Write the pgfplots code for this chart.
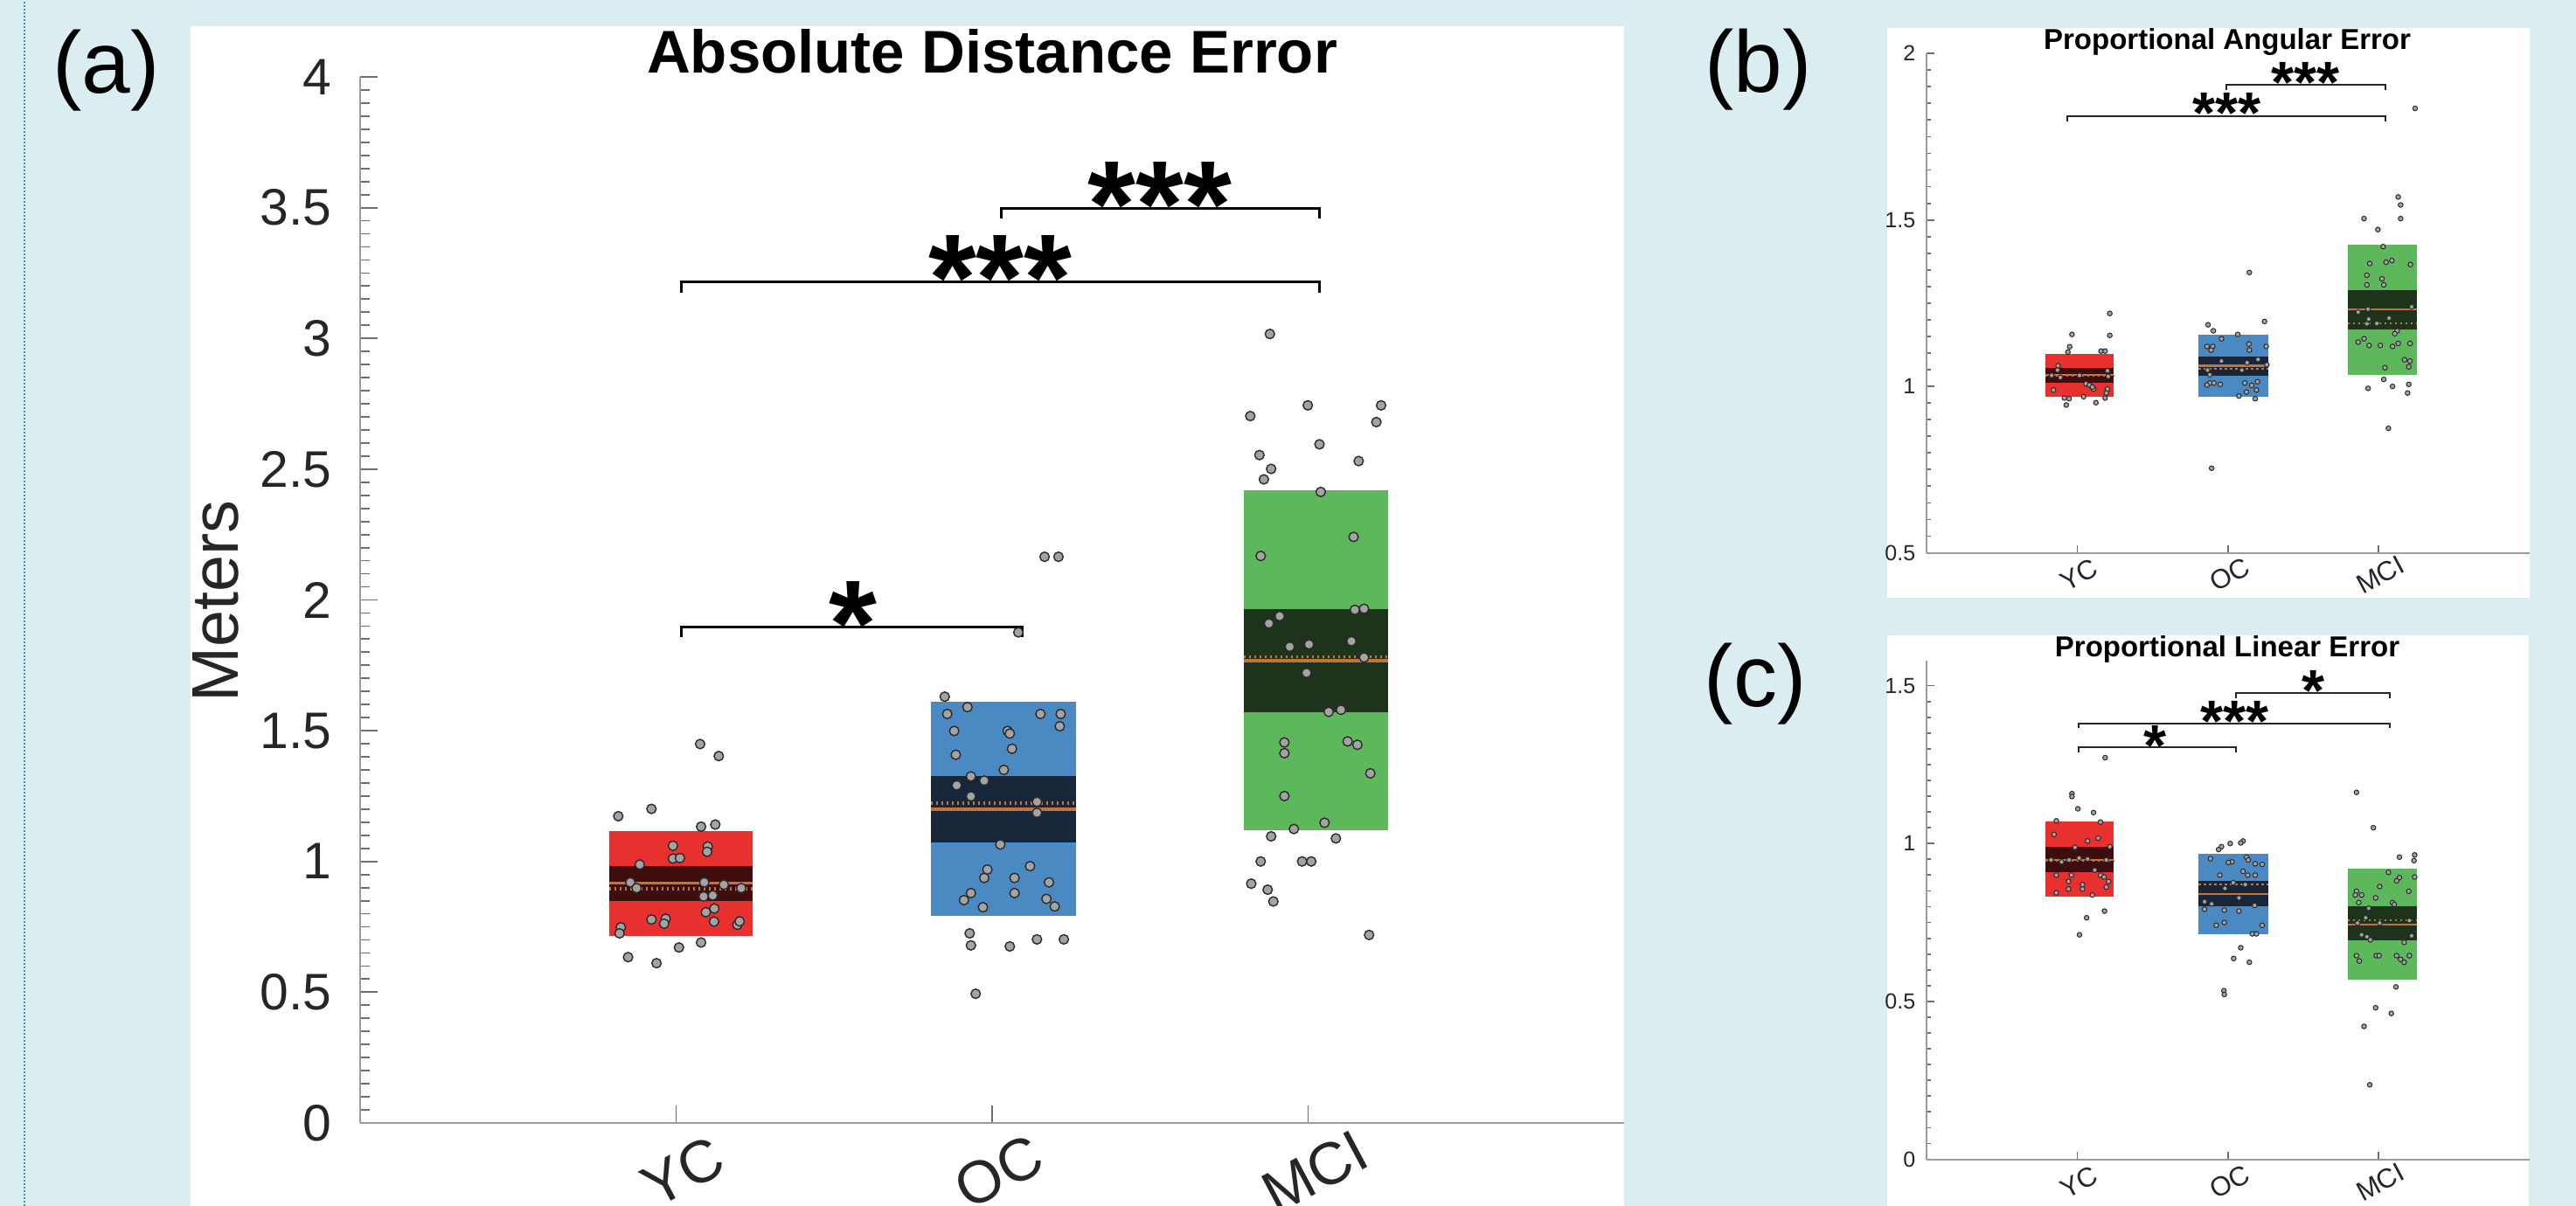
\documentclass[border=0pt]{standalone}
\usepackage{fontspec}
\setmainfont{Liberation Sans}
\usepackage{pgfplots}
\pgfplotsset{compat=1.18}
\definecolor{bg}{RGB}{218,238,241}
\definecolor{dotline}{RGB}{30,160,185}
\definecolor{axisgray}{RGB}{154,154,154}
\definecolor{tickgray}{RGB}{110,110,110}
\definecolor{labelgray}{RGB}{38,38,38}
\definecolor{boxred}{RGB}{232,48,47}
\definecolor{bandred}{RGB}{62,14,14}
\definecolor{boxblue}{RGB}{74,137,194}
\definecolor{bandblue}{RGB}{23,39,57}
\definecolor{boxgreen}{RGB}{93,184,91}
\definecolor{bandgreen}{RGB}{29,51,28}
\definecolor{meanc}{RGB}{194,116,62}
\definecolor{dotfill}{RGB}{163,163,163}
\definecolor{dotdraw}{RGB}{43,43,43}
\pgfplotsset{
  panel/.style={
    anchor=south west, scale only axis,
    xmin=0, xmax=4,
    axis x line=bottom, axis y line=left,
    axis line style={draw=axisgray, line width=0.5pt, -},
    xtick={1,2,3}, xticklabels={YC,OC,MCI},
    minor y tick num=9, minor x tick num=0,
    tick align=inside,
    tick style={draw=tickgray, line width=0.45pt},
    /pgf/number format/assume math mode=true,
    yticklabel style={text=labelgray, inner sep=0pt, anchor=east},
    xticklabel style={text=labelgray, inner sep=0pt},
  },
  boxp/.style={fill=#1, draw=none, forget plot},
  meanl/.style={meanc, line width=#1, forget plot},
  medl/.style={meanc, line width=#1, dash pattern=on 0.6pt off 0.9pt, forget plot},
  ptsA/.style={only marks, mark=*, mark size=1.35pt, mark options={fill=dotfill, draw=dotdraw, line width=0.35pt}},
  ptsB/.style={only marks, mark=*, mark size=0.68pt, mark options={fill=dotfill, draw=dotdraw, line width=0.25pt}},
}
\begin{document}
\begin{tikzpicture}
\useasboundingbox (0,0) rectangle (736.75pt,345pt);
\fill[bg] (0,0) rectangle (736.75pt,345pt);
\draw[dotline, line width=0.6pt, dash pattern=on 0.5pt off 0.5pt] (7pt,0) -- (7pt,345pt);
\fill[white] (54.5pt,0) rectangle (464.5pt,337.5pt);
\fill[white] (539.75pt,174pt) rectangle (723.5pt,337pt);
\fill[white] (539.75pt,0) rectangle (723.25pt,163.25pt);

% panel labels and titles
\node[font=\fontsize{25pt}{28pt}\selectfont, inner sep=0pt] at (30.4pt,324.9pt) {(a)};
\node[font=\fontsize{25pt}{28pt}\selectfont, inner sep=0pt] at (502.9pt,325pt) {(b)};
\node[font=\fontsize{25pt}{28pt}\selectfont, inner sep=0pt] at (502pt,149.4pt) {(c)};
\node[anchor=base, inner sep=0pt, font=\bfseries\fontsize{17.25pt}{20pt}\selectfont] at (283.75pt,324pt) {Absolute Distance Error};
\node[anchor=base, inner sep=0pt, font=\bfseries\fontsize{8.25pt}{10pt}\selectfont] at (637pt,330.75pt) {Proportional Angular Error};
\node[anchor=base, inner sep=0pt, font=\bfseries\fontsize{8.25pt}{10pt}\selectfont] at (637pt,157pt) {Proportional Linear Error};
\node[rotate=90, inner sep=0pt, text=labelgray, font=\fontsize{18.9pt}{20pt}\selectfont] at (61.75pt,173pt) {Meters};

% ---------------- (a) ----------------
\begin{axis}[panel,
  at={(103pt,23.75pt)}, width=361.5pt, height=299.25pt,
  ymin=0, ymax=4, ytick={0,0.5,1,1.5,2,2.5,3,3.5,4},
  major tick length=5pt, minor tick length=2.75pt,
  yticklabel style={font=\fontsize{14.7pt}{16pt}\selectfont, xshift=-8pt},
  xticklabel style={font=\fontsize{17pt}{18pt}\selectfont, yshift=-14pt, xshift=2pt, rotate=28, anchor=center},
]
% YC
\addplot[boxp=boxred] coordinates {(0.787,0.715) (1.243,0.715) (1.243,1.117) (0.787,1.117)};
\addplot[boxp=bandred] coordinates {(0.787,0.848) (1.243,0.848) (1.243,0.982) (0.787,0.982)};
\addplot[meanl=0.9pt] coordinates {(0.787,0.917) (1.243,0.917)};
\addplot[medl=0.9pt] coordinates {(0.787,0.896) (1.243,0.896)};
% OC
\addplot[boxp=boxblue] coordinates {(1.805,0.793) (2.265,0.793) (2.265,1.609) (1.805,1.609)};
\addplot[boxp=bandblue] coordinates {(1.805,1.072) (2.265,1.072) (2.265,1.328) (1.805,1.328)};
\addplot[meanl=0.9pt] coordinates {(1.805,1.199) (2.265,1.199)};
\addplot[medl=0.9pt] coordinates {(1.805,1.224) (2.265,1.224)};
% MCI
\addplot[boxp=boxgreen] coordinates {(2.796,1.118) (3.253,1.118) (3.253,2.418) (2.796,2.418)};
\addplot[boxp=bandgreen] coordinates {(2.796,1.570) (3.253,1.570) (3.253,1.966) (2.796,1.966)};
\addplot[meanl=0.9pt] coordinates {(2.796,1.768) (3.253,1.768)};
\addplot[medl=0.9pt] coordinates {(2.796,1.783) (3.253,1.783)};
% points
\addplot[ptsA] coordinates {(1.076,1.449) (1.135,1.403) (0.817,1.173) (0.922,1.201) (1.079,1.133) (1.124,1.141) (0.990,1.060) (1.100,1.057) (1.098,1.037) (0.990,1.011) (1.012,1.013) (0.885,0.988) (0.855,0.920) (0.875,0.898) (1.089,0.920) (1.151,0.911) (1.206,0.898) (1.087,0.866) (1.116,0.870) (1.094,0.806) (1.121,0.820) (0.922,0.778) (0.967,0.781) (0.962,0.762) (1.120,0.770) (1.194,0.758) (1.201,0.771) (0.825,0.748) (0.821,0.725) (1.079,0.690) (1.009,0.671) (0.848,0.634) (0.938,0.611)};
\addplot[ptsA] coordinates {(1.850,1.630) (1.922,1.590) (1.858,1.564) (2.153,1.564) (2.217,1.564) (2.214,1.517) (1.880,1.499) (2.049,1.499) (2.056,1.489) (2.063,1.431) (1.885,1.408) (2.037,1.350) (1.933,1.325) (1.975,1.309) (1.888,1.291) (1.933,1.249) (2.142,1.228) (2.142,1.186) (2.026,1.065) (2.120,0.982) (1.985,0.969) (1.975,0.937) (2.071,0.937) (2.180,0.920) (1.933,0.879) (2.071,0.879) (1.911,0.852) (2.172,0.857) (1.971,0.825) (2.198,0.828) (1.929,0.725) (1.933,0.679) (2.056,0.675) (2.142,0.702) (2.227,0.702) (1.948,0.494) (2.166,2.165) (2.210,2.165) (2.083,1.876)};
\addplot[ptsA] coordinates {(2.879,3.017) (2.817,2.703) (2.999,2.744) (3.231,2.744) (3.216,2.680) (3.036,2.595) (2.846,2.554) (3.160,2.531) (2.883,2.501) (2.860,2.461) (3.040,2.413) (3.144,2.241) (2.850,2.168) (2.910,1.938) (2.876,1.910) (3.148,1.962) (3.177,1.966) (2.942,1.821) (3.003,1.830) (3.137,1.842) (3.177,1.780) (2.995,1.721) (3.065,1.572) (3.104,1.580) (2.925,1.455) (2.925,1.414) (3.125,1.459) (3.156,1.446) (3.197,1.337) (2.925,1.250) (3.052,1.148) (2.955,1.124) (2.883,1.096) (3.088,1.088) (2.850,1.000) (2.981,1.000) (3.010,1.000) (2.820,0.915) (2.872,0.892) (2.890,0.847) (3.193,0.719)};
% significance
\addplot[black, line width=0.75pt] coordinates {(1.017,1.858) (1.017,1.898) (2.095,1.898) (2.095,1.858)};
\addplot[black, line width=0.75pt] coordinates {(1.017,3.176) (1.017,3.216) (3.036,3.216) (3.036,3.176)};
\addplot[black, line width=0.75pt] coordinates {(2.030,3.459) (2.030,3.498) (3.036,3.498) (3.036,3.459)};
\node[anchor=base, inner sep=0pt, font=\bfseries\fontsize{35.25pt}{36pt}\selectfont] at (axis cs:1.560,1.747) {*};
\node[anchor=base, inner sep=0pt, font=\bfseries\fontsize{35.25pt}{36pt}\selectfont] at (axis cs:2.026,3.070) {***};
\node[anchor=base, inner sep=0pt, font=\bfseries\fontsize{35.25pt}{36pt}\selectfont] at (axis cs:2.531,3.349) {***};
\end{axis}

% ---------------- (b) ----------------
\begin{axis}[panel,
  at={(551pt,186.85pt)}, width=172.4pt, height=142.85pt,
  ymin=0.5, ymax=2, ytick={0.5,1,1.5,2},
  major tick length=2.25pt, minor tick length=1.25pt,
  yticklabel style={font=\fontsize{6.25pt}{7pt}\selectfont, xshift=-3pt},
  xticklabel style={font=\fontsize{7.75pt}{9pt}\selectfont, yshift=-6.25pt, xshift=0.5pt, rotate=28, anchor=center},
]
\addplot[boxp=boxred] coordinates {(0.787,0.969) (1.243,0.969) (1.243,1.0987) (0.787,1.0987)};
\addplot[boxp=bandred] coordinates {(0.787,1.012) (1.243,1.012) (1.243,1.0554) (0.787,1.0554)};
\addplot[meanl=0.6pt] coordinates {(0.787,1.034) (1.243,1.034)};
\addplot[medl=0.5pt] coordinates {(0.787,1.031) (1.243,1.031)};
\addplot[boxp=boxblue] coordinates {(1.805,0.969) (2.265,0.969) (2.265,1.155) (1.805,1.155)};
\addplot[boxp=bandblue] coordinates {(1.805,1.033) (2.265,1.033) (2.265,1.0906) (1.805,1.0906)};
\addplot[meanl=0.6pt] coordinates {(1.805,1.0625) (2.265,1.0625)};
\addplot[medl=0.5pt] coordinates {(1.805,1.052) (2.265,1.052)};
\addplot[boxp=boxgreen] coordinates {(2.796,1.0354) (3.253,1.0354) (3.253,1.4245) (2.796,1.4245)};
\addplot[boxp=bandgreen] coordinates {(2.796,1.1704) (3.253,1.1704) (3.253,1.29) (2.796,1.29)};
\addplot[meanl=0.6pt] coordinates {(2.796,1.231) (3.253,1.231)};
\addplot[medl=0.5pt] coordinates {(2.796,1.189) (3.253,1.189)};
\addplot[ptsB] coordinates {(1.216,1.219) (0.965,1.156) (1.216,1.153) (0.950,1.119) (0.938,1.103) (1.158,1.106) (1.185,1.106) (0.873,1.062) (0.869,1.049) (0.830,1.033) (0.888,1.027) (1.015,1.033) (1.201,1.047) (1.205,1.030) (1.058,1.008) (1.081,1.004) (1.108,0.992) (1.100,0.998) (1.201,0.992) (0.842,0.989) (1.193,0.980) (1.042,0.969) (1.185,0.965) (0.915,0.965) (0.946,0.963) (1.124,0.951) (0.927,0.944)};
\addplot[ptsB] coordinates {(2.142,1.342) (1.868,1.185) (1.903,1.167) (2.243,1.195) (2.065,1.156) (1.957,1.143) (1.861,1.120) (1.899,1.120) (2.139,1.127) (2.254,1.120) (1.888,1.109) (2.142,1.109) (1.957,1.076) (2.200,1.081) (2.127,1.071) (2.258,1.065) (1.865,1.049) (2.092,1.049) (1.880,1.035) (1.880,1.010) (1.907,1.010) (1.949,1.006) (1.861,1.004) (2.112,1.010) (2.196,1.014) (2.158,1.003) (2.123,0.983) (2.189,0.989) (2.073,0.971) (2.181,0.963) (1.892,0.754)};
\addplot[ptsB] coordinates {(3.242,1.835) (3.130,1.569) (3.146,1.545) (3.146,1.504) (2.903,1.504) (2.995,1.471) (3.030,1.420) (2.941,1.369) (3.049,1.373) (3.088,1.378) (3.211,1.366) (2.922,1.334) (3.022,1.323) (2.922,1.305) (3.034,1.305) (2.864,1.223) (2.930,1.232) (3.219,1.239) (2.934,1.202) (3.069,1.205) (2.922,1.188) (2.988,1.189) (3.123,1.167) (3.107,1.158) (2.903,1.143) (2.864,1.133) (2.937,1.123) (3.011,1.123) (3.092,1.120) (3.130,1.129) (3.208,1.129) (3.172,1.080) (3.208,1.076) (3.042,1.056) (3.200,1.059) (3.034,1.021) (3.092,1.000) (3.200,1.006) (2.930,0.994) (3.192,0.980) (3.065,0.874)};
\addplot[black!85, line width=0.5pt] coordinates {(1.988,1.891) (1.988,1.906) (3.046,1.906) (3.046,1.891)};
\addplot[black!85, line width=0.5pt] coordinates {(0.934,1.797) (0.934,1.8126) (3.046,1.8126) (3.046,1.797)};
\node[anchor=base, inner sep=0pt, font=\bfseries\fontsize{16.75pt}{18pt}\selectfont] at (axis cs:2.517,1.852) {***};
\node[anchor=base, inner sep=0pt, font=\bfseries\fontsize{16.75pt}{18pt}\selectfont] at (axis cs:1.995,1.759) {***};
\end{axis}

% ---------------- (c) ----------------
\begin{axis}[panel,
  at={(551pt,13.35pt)}, width=172.4pt, height=142.55pt,
  ymin=0, ymax=1.578, ytick={0,0.5,1,1.5},
  major tick length=2.25pt, minor tick length=1.25pt,
  yticklabel style={font=\fontsize{6.25pt}{7pt}\selectfont, xshift=-3pt},
  xticklabel style={font=\fontsize{7.75pt}{9pt}\selectfont, yshift=-6.5pt, xshift=0.5pt, rotate=28, anchor=center},
]
\addplot[boxp=boxred] coordinates {(0.787,0.8305) (1.243,0.8305) (1.243,1.0706) (0.787,1.0706)};
\addplot[boxp=bandred] coordinates {(0.787,0.9085) (1.243,0.9085) (1.243,0.990) (0.787,0.990)};
\addplot[meanl=0.6pt] coordinates {(0.787,0.948) (1.243,0.948)};
\addplot[medl=0.5pt] coordinates {(0.787,0.944) (1.243,0.944)};
\addplot[boxp=boxblue] coordinates {(1.805,0.713) (2.265,0.713) (2.265,0.9686) (1.805,0.9686)};
\addplot[boxp=bandblue] coordinates {(1.805,0.8005) (2.265,0.8005) (2.265,0.881) (1.805,0.881)};
\addplot[meanl=0.6pt] coordinates {(1.805,0.840) (2.265,0.840)};
\addplot[medl=0.5pt] coordinates {(1.805,0.870) (2.265,0.870)};
\addplot[boxp=boxgreen] coordinates {(2.796,0.570) (3.253,0.570) (3.253,0.9205) (2.796,0.9205)};
\addplot[boxp=bandgreen] coordinates {(2.796,0.6925) (3.253,0.6925) (3.253,0.8005) (2.796,0.8005)};
\addplot[meanl=0.6pt] coordinates {(2.796,0.744) (3.253,0.744)};
\addplot[medl=0.5pt] coordinates {(2.796,0.756) (3.253,0.756)};
\addplot[ptsB] coordinates {(1.185,1.272) (0.965,1.158) (0.965,1.149) (1.004,1.110) (1.108,1.098) (0.861,1.072) (1.154,1.068) (0.846,1.029) (1.139,1.017) (1.069,1.008) (1.216,0.990) (0.985,0.988) (0.826,0.948) (0.896,0.942) (0.946,0.948) (1.012,0.954) (1.069,0.951) (1.193,0.948) (1.116,0.916) (0.961,0.900) (0.861,0.900) (1.154,0.900) (1.178,0.894) (0.942,0.880) (1.208,0.880) (1.035,0.870) (1.035,0.856) (1.193,0.862) (0.942,0.856) (0.861,0.844) (1.100,0.837) (1.062,0.765) (1.181,0.786) (1.015,0.711)};
\addplot[ptsB] coordinates {(2.100,1.008) (2.015,1.000) (1.957,0.990) (2.085,1.002) (1.938,0.981) (1.884,0.952) (2.027,0.942) (2.003,0.940) (2.123,0.957) (2.135,0.948) (2.181,0.936) (2.227,0.934) (2.100,0.912) (2.131,0.900) (2.181,0.900) (1.946,0.900) (2.035,0.876) (2.115,0.870) (1.980,0.858) (2.073,0.828) (1.845,0.816) (1.892,0.809) (1.845,0.792) (1.976,0.789) (2.073,0.786) (2.177,0.804) (1.976,0.750) (1.922,0.741) (2.227,0.741) (2.162,0.714) (2.189,0.714) (2.085,0.670) (2.038,0.636) (2.142,0.624) (1.973,0.534) (1.976,0.522)};
\addplot[ptsB] coordinates {(2.853,1.162) (2.965,1.050) (3.138,0.957) (3.239,0.964) (3.235,0.946) (3.065,0.909) (3.138,0.892) (3.119,0.882) (3.239,0.894) (3.007,0.864) (2.853,0.849) (2.845,0.837) (2.887,0.837) (3.200,0.849) (2.980,0.828) (2.868,0.813) (3.092,0.813) (3.104,0.807) (2.934,0.795) (2.914,0.765) (2.860,0.748) (3.204,0.756) (3.007,0.748) (2.887,0.711) (2.922,0.705) (2.945,0.695) (3.219,0.708) (3.169,0.687) (2.853,0.645) (2.984,0.645) (3.003,0.645) (2.872,0.628) (3.119,0.645) (3.146,0.633) (3.204,0.645) (3.169,0.624) (3.115,0.546) (2.980,0.480) (3.084,0.462) (2.903,0.421) (2.941,0.236)};
\addplot[black!85, line width=0.5pt] coordinates {(2.054,1.461) (2.054,1.476) (3.076,1.476) (3.076,1.461)};
\addplot[black!85, line width=0.5pt] coordinates {(1.008,1.365) (1.008,1.380) (3.076,1.380) (3.076,1.365)};
\addplot[black!85, line width=0.5pt] coordinates {(1.008,1.288) (1.008,1.305) (2.054,1.305) (2.054,1.288)};
\node[anchor=base, inner sep=0pt, font=\bfseries\fontsize{16.75pt}{18pt}\selectfont] at (axis cs:2.567,1.419) {*};
\node[anchor=base, inner sep=0pt, font=\bfseries\fontsize{16.75pt}{18pt}\selectfont] at (axis cs:2.046,1.324) {***};
\node[anchor=base, inner sep=0pt, font=\bfseries\fontsize{16.75pt}{18pt}\selectfont] at (axis cs:1.517,1.245) {*};
\end{axis}
\end{tikzpicture}
\end{document}
